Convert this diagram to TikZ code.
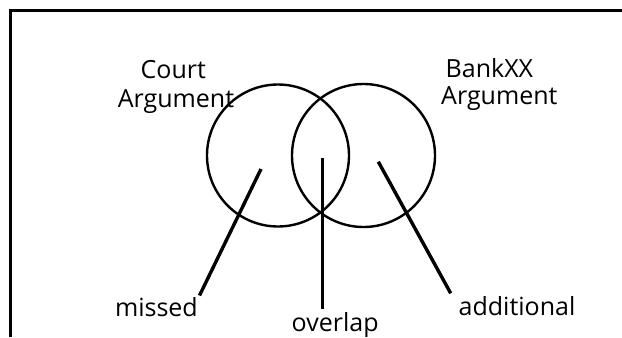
\documentclass[tikz,border=0pt]{standalone}
\usepackage{fontspec}
\setmainfont{Open Sans}
\begin{document}
\begin{tikzpicture}[x=1bp,y=1bp,
  lbl/.style={inner sep=0pt,font=\fontsize{25bp}{29bp}\selectfont},
  ring/.style={draw=black,line width=2.4bp},
  leader/.style={draw=black,line width=3.4bp},
  frame/.style={draw=black,line width=3.4bp,line join=miter}]
\useasboundingbox (0,0) rectangle (622,337);
% frame
\coordinate (f1) at (10.5,0);
\coordinate (f2) at (10.5,326.5);
\coordinate (f3) at (622,326.5);
\draw[frame] (f1) -- (f2) -- (f3);
% circles
\node[ring,circle,minimum size=142bp,inner sep=0pt] (court) at (278,181.5) {};
\node[ring,circle,minimum size=143bp,inner sep=0pt] (bank) at (363.5,181.5) {};
% labels
\node[lbl,anchor=base] (court1) at (173.3,258.7) {Court};
\node[lbl,anchor=base] (court2) at (176,229.7) {Argument};
\node[lbl,anchor=base west] (bank1) at (445.5,259.7) {BankXX};
\node[lbl,anchor=base west] (bank2) at (441,232.7) {Argument};
\node[lbl,anchor=base east] (missed) at (198,20.3) {missed};
\node[lbl,anchor=base west] (overlap) at (291.5,5.3) {overlap};
\node[lbl,anchor=base] (additional) at (517,22) {additional};
% leader ends
\coordinate (m1) at (261,168);
\coordinate (m2) at (199.5,41.5);
\coordinate (o1) at (322.3,178.7);
\coordinate (o2) at (322.3,28);
\coordinate (a1) at (378.3,175.3);
\coordinate (a2) at (450.7,43.7);
\draw[leader] (m1) -- (m2);
\draw[leader] (o1) -- (o2);
\draw[leader] (a1) -- (a2);
\end{tikzpicture}
\end{document}
